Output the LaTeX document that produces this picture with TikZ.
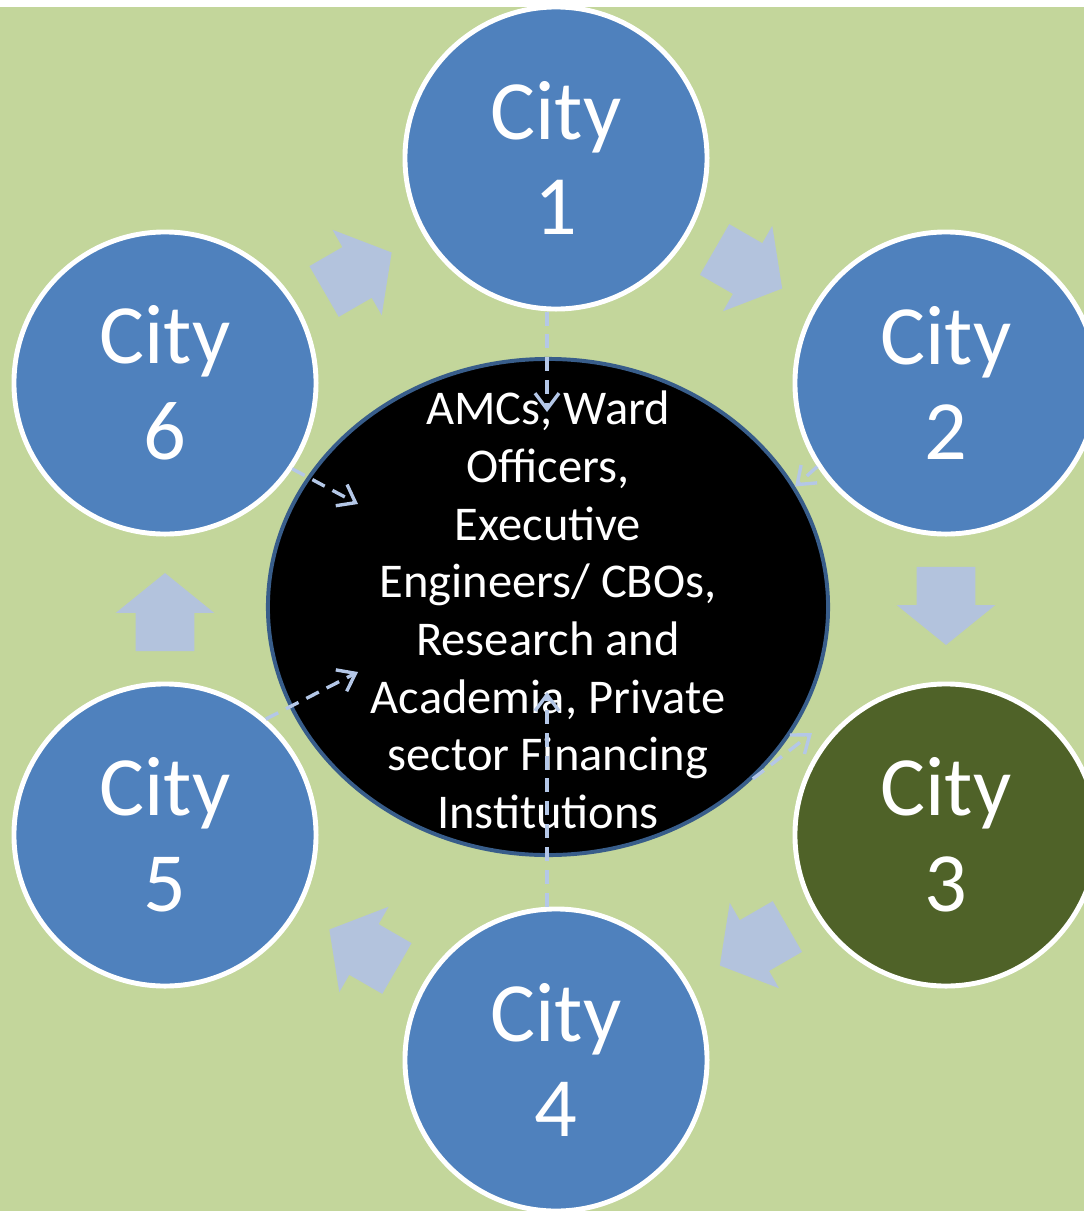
\documentclass[tikz,border=0pt]{standalone}
\usepackage{fontspec}
\setmainfont{Carlito}
\usetikzlibrary{shapes.geometric, shapes.arrows, arrows.meta, calc}

\definecolor{bggreen}{HTML}{C3D69B}
\definecolor{cityblue}{HTML}{4F81BD}
\definecolor{cityolive}{HTML}{4F6228}
\definecolor{hubedge}{HTML}{385D8A}
\definecolor{flowblue}{HTML}{B3C3DD}
\definecolor{linkblue}{HTML}{B4C7E7}

\begin{document}
\begin{tikzpicture}[
        x=0.025cm, y=-0.025cm,
        % Circles for the cities
        city/.style={
                circle,
                minimum size=7.55cm,
                inner sep=0pt,
                fill=cityblue,
                draw=white,
                line width=3.5pt,
                align=center,
                text=white,
                font=\fontsize{60}{68}\selectfont
            },
        % Central ellipse
        hub/.style={
                ellipse,
                minimum width=14cm,
                minimum height=12.4cm,
                inner sep=0pt,
                fill=black,
                draw=hubedge,
                line width=2.8pt
            },
        hubtext/.style={
                align=center,
                text=white,
                font=\fontsize{34.5}{41}\selectfont
            },
        % Block arrows of the cycle
        flow/.style={
                single arrow,
                fill=flowblue,
                inner xsep=0pt,
                inner ysep=0.725cm,
                minimum height=1.95cm,
                single arrow head extend=0.5cm,
                single arrow tip angle=102
            },
        % Dashed links
        link/.style={
                -{Straight Barb[length=0.4cm,width=0.6cm]},
                draw=linkblue,
                line width=2.4pt,
                dash pattern=on 0.35cm off 0.22cm
            }
    ]

    % Background
    \useasboundingbox (0,0) rectangle (1084,1211);
    \clip (0,0) rectangle (1084,1211);
    \fill[white] (0,0) rectangle (1084,1211);
    \fill[bggreen] (0,7) rectangle (1084,1211);

    % Cities
    \node[city] (c1) at (556,158) {City\\1};
    \node[city] (c2) at (946,383) {City\\2};
    \node[city, fill=cityolive] (c3) at (946,835) {City\\3};
    \node[city] (c4) at (556,1060) {City\\4};
    \node[city] (c5) at (165,835) {City\\5};
    \node[city] (c6) at (165,383) {City\\6};

    % Cycle arrows
    \foreach \a/\b/\r in {c1/c2/-30, c2/c3/-90, c3/c4/-150, c4/c5/150, c5/c6/90, c6/c1/30}
        \node[flow, rotate=\r] at ($(\a)!0.467!(\b)$) {};

    % Centre
    \node[hub] (hub) at (548,607) {};
    \node[hubtext] (hubtxt) at (548,610) {AMCs, Ward\\Officers,\\Executive\\Engineers/ CBOs,\\Research and\\Academia, Private\\sector Financing\\Institutions};

    % Links between the cities and the centre
    \coordinate (t1) at (547,412);
    \coordinate (t3) at (812,733);
    \coordinate (t4) at (547,692);
    \coordinate (t5) at (358,672);
    \coordinate (t6) at (358,504);

    \draw[link] (c1.south -| t1) -- (t1);
    \draw[link] (c2.213) -- (hub.26);
    \draw[link] (hub.-40) -- (t3);
    \draw[link] (c4.north -| t4) -- (t4);
    \draw[link] (c5.49) -- (t5);
    \draw[link] (c6.-34) -- (t6);

\end{tikzpicture}
\end{document}
